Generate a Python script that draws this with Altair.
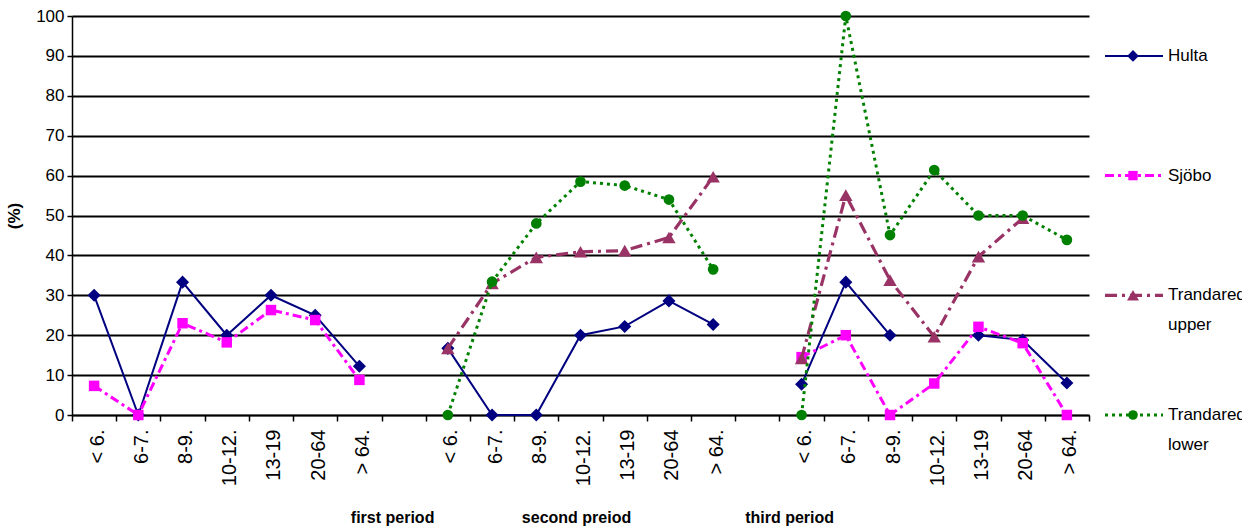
import altair as alt
import pandas as pd

# Age groups shown in each period, and the period captions under the axis
AGE_GROUPS = ["< 6.", "6-7.", "8-9.", "10-12.", "13-19", "20-64", "> 64."]
PERIOD_NAMES = ["first period", "second preiod", "third period"]

# Share (%) per age group; None = no value for that group
hulta_p1 = [30.0, 0.0, 33.3, 20.0, 30.0, 25.0, 12.2]
hulta_p2 = [16.7, 0.0, 0.0, 20.0, 22.2, 28.6, 22.7]
hulta_p3 = [7.7, 33.3, 20.0, None, 20.0, 18.8, 8.0]

sjobo_p1 = [7.3, 0.0, 23.0, 18.2, 26.3, 23.8, 8.8]
sjobo_p2 = [None] * 7
sjobo_p3 = [14.5, 20.0, 0.0, 7.9, 22.1, 18.0, 0.0]

upper_p1 = [None] * 7
upper_p2 = [16.7, 33.0, 39.5, 40.9, 41.2, 44.5, 59.7]
upper_p3 = [14.2, 55.1, 33.8, 19.6, 39.7, 49.3, None]

lower_p1 = [None] * 7
lower_p2 = [0.0, 33.4, 48.0, 58.5, 57.5, 54.0, 36.5]
lower_p3 = [0.0, 100.0, 45.1, 61.4, 50.0, 50.0, 43.9]

# Legend rows sit at these heights of the percentage scale
legend_levels = [90, 60, 30, 0]

# x slots: seven age groups per period, one empty slot between periods.
# Repeated labels are kept distinct with trailing zero-width spaces.
ZW = "\u200b"
slot_of = {}
slots = []
for p in range(3):
    for a in AGE_GROUPS:
        key = a + ZW * p
        slot_of[(p, a)] = key
        slots.append(key)
    if p < 2:
        slots.append(" " * (p + 1))

W, H = 1017, 399


def series_frame(periods):
    rows = []
    run = 0
    for p, values in enumerate(periods):
        run += 1
        for a, v in zip(AGE_GROUPS, values):
            if v is None:
                run += 1
                continue
            key = slot_of[(p, a)]
            rows.append({"slot": key, "value": v, "run": run, "idx": slots.index(key)})
    return pd.DataFrame(rows)


series = [
    dict(name=["Hulta", ""], data=[hulta_p1, hulta_p2, hulta_p3], color="#000080",
         dash=None, width=2.0, shape="diamond", size=170),
    dict(name=["Sjöbo", ""], data=[sjobo_p1, sjobo_p2, sjobo_p3], color="#FF00FF",
         dash=[9, 4, 3, 4], width=3.0, shape="square", size=110),
    dict(name=["Trandared", "upper"], data=[upper_p1, upper_p2, upper_p3], color="#993366",
         dash=[12, 5, 3, 5], width=3.2, shape="triangle-up", size=180),
    dict(name=["Trandared", "lower"], data=[lower_p1, lower_p2, lower_p3], color="#008000",
         dash=[3, 4], width=3.0, shape="circle", size=115),
]

FONT = "Liberation Sans"

X = alt.X(
    "slot:N",
    title=None,
    scale=alt.Scale(domain=slots, type="band", paddingInner=0, paddingOuter=0),
    axis=alt.Axis(
        labelAngle=-90,
        labelFont=FONT,
        labelFontSize=20,
        labelColor="black",
        labelPadding=8,
        labelOffset=3,
        labelOverlap=False,
        tickBand="extent",
        tickSize=6,
        tickColor="black",
        tickWidth=1.5,
        domainColor="black",
        domainWidth=1.5,
        grid=False,
    ),
)

Y = alt.Y(
    "value:Q",
    scale=alt.Scale(domain=[0, 100], nice=False),
    axis=alt.Axis(
        values=list(range(0, 101, 10)),
        title="(%)",
        titleFont=FONT,
        titleFontSize=17,
        titleFontWeight="bold",
        titleColor="black",
        titlePadding=12,
        labelFont=FONT,
        labelFontSize=17,
        labelColor="black",
        labelPadding=3,
        tickSize=5,
        tickColor="black",
        tickWidth=1.5,
        domainColor="black",
        domainWidth=1.5,
        grid=True,
        gridColor="black",
        gridWidth=2,
    ),
)


def line_props(s):
    props = dict(color=s["color"], strokeWidth=s["width"])
    if s["dash"]:
        props["strokeDash"] = s["dash"]
    return props


layers = []
for i, s in enumerate(series):
    df = series_frame(s["data"])
    layers.append(
        alt.Chart(df).mark_line(**line_props(s)).encode(
            x=X, y=Y, detail="run:N", order="idx:Q"
        )
    )
    layers.append(
        alt.Chart(df).mark_point(
            shape=s["shape"], size=s["size"], filled=True, color=s["color"], opacity=1
        ).encode(x=X, y=Y)
    )

# legend: line sample, marker and label for each series
for i, s in enumerate(series):
    leg = pd.DataFrame({
        "value": [legend_levels[i]],
        "line1": [s["name"][0]],
        "line2": [s["name"][1]],
    })
    layers.append(
        alt.Chart(leg).mark_rule(**line_props(s)).encode(
            x=alt.value(W + 16), x2=alt.value(W + 74), y=Y
        )
    )
    layers.append(
        alt.Chart(leg).mark_point(
            shape=s["shape"], size=s["size"] * 0.8, filled=True, color=s["color"], opacity=1
        ).encode(x=alt.value(W + 44), y=Y)
    )
    layers.append(
        alt.Chart(leg).mark_text(
            align="left", baseline="middle", font=FONT, fontSize=17, color="black"
        ).encode(x=alt.value(W + 79), y=Y, text="line1:N")
    )
    if s["name"][1]:
        layers.append(
            alt.Chart(leg).mark_text(
                align="left", baseline="middle", font=FONT, fontSize=17,
                color="black", dy=30
            ).encode(x=alt.value(W + 79), y=Y, text="line2:N")
        )

# period captions under the age-group labels
caption_slots = [" ", slot_of[(1, "10-12.")], slot_of[(2, "< 6.")]]
caption_shift = [-11, -4, -12]
for slot, name, shift in zip(caption_slots, PERIOD_NAMES, caption_shift):
    cap = pd.DataFrame({"slot": [slot], "caption": [name]})
    layers.append(
        alt.Chart(cap).mark_text(
            align="center", baseline="alphabetic", font=FONT, fontSize=16,
            fontWeight="bold", color="black", dx=shift
        ).encode(x=X, y=alt.value(507), text="caption:N")
    )

chart = alt.layer(*layers).properties(
    width=W,
    height=H,
    autosize=alt.AutoSizeParams(type="none"),
    padding={"left": 72, "top": 16, "right": 153, "bottom": 116},
).configure_view(stroke=None)

chart.save("out.html", embed_options={"renderer": "svg", "actions": False})
